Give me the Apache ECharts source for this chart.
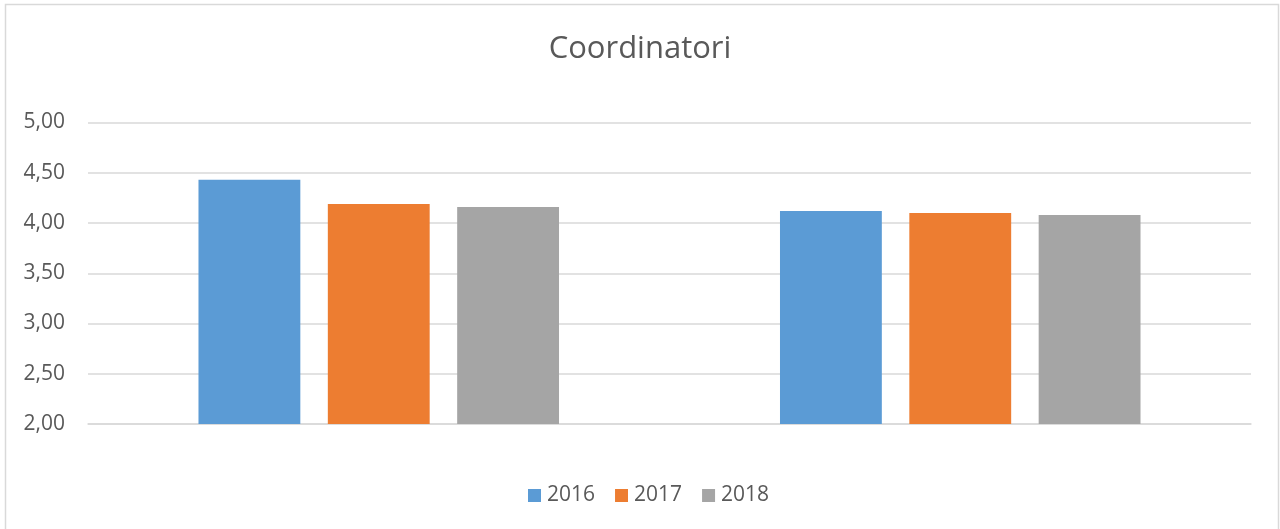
<!DOCTYPE html>
<html>
<head>
<meta charset="utf-8">
<script src="https://cdn.jsdelivr.net/npm/echarts@6/dist/echarts.min.js"></script>
<style>
html,body{margin:0;padding:0;background:#fff;}
#c{width:1280px;height:529px;}
</style>
</head>
<body>
<div id="c"></div>
<script>
const categories = ['', ''];
const seriesNames = ['2016', '2017', '2018'];
const values2016 = [4.43, 4.12];
const values2017 = [4.19, 4.10];
const values2018 = [4.16, 4.08];
const yTicks = [2.0, 2.5, 3.0, 3.5, 4.0, 4.5, 5.0];
const colors = ['#5b9bd5', '#ed7d31', '#a5a5a5'];

const chart = echarts.init(document.getElementById('c'), null, {renderer: 'canvas'});
const font = 'Open Sans';
const data = [values2016, values2017, values2018];
chart.setOption({
  animation: false,
  backgroundColor: '#fff',
  title: {
    text: 'Coordinatori',
    left: 'center',
    top: 29,
    textStyle: {fontFamily: font, fontSize: 31, fontWeight: 'normal', color: '#595959'}
  },
  legend: {
    data: seriesNames,
    bottom: 18,
    left: 523,
    itemWidth: 13,
    itemHeight: 13,
    itemGap: 20,
    icon: 'rect',
    textStyle: {fontFamily: font, fontSize: 21, color: '#595959', padding: [0, 0, 0, 1]}
  },
  graphic: [{
    type: 'rect',
    shape: {x: 5.5, y: 4.5, width: 1273, height: 540},
    style: {fill: 'none', stroke: '#d9d9d9', lineWidth: 1.5},
    silent: true
  }],
  grid: {left: 88, right: 29, top: 122.5, bottom: 105, containLabel: false},
  xAxis: {
    type: 'category',
    data: categories,
    axisLine: {show: true, lineStyle: {color: '#d9d9d9', width: 1.5}},
    axisTick: {show: false},
    axisLabel: {show: false}
  },
  yAxis: {
    type: 'value',
    min: yTicks[0],
    max: yTicks[yTicks.length - 1],
    interval: 0.5,
    axisLine: {show: false},
    axisTick: {show: false},
    splitLine: {lineStyle: {color: '#d9d9d9', width: 1.5}},
    axisLabel: {
      margin: 23,
      fontFamily: font,
      fontSize: 21,
      color: '#595959',
      formatter: v => v.toFixed(2).replace('.', ',')
    }
  },
  series: seriesNames.map((n, i) => ({
    name: n,
    type: 'bar',
    data: data[i],
    itemStyle: {color: colors[i]},
    barGap: '27%',
    barCategoryGap: '38%'
  }))
});
</script>
</body>
</html>
